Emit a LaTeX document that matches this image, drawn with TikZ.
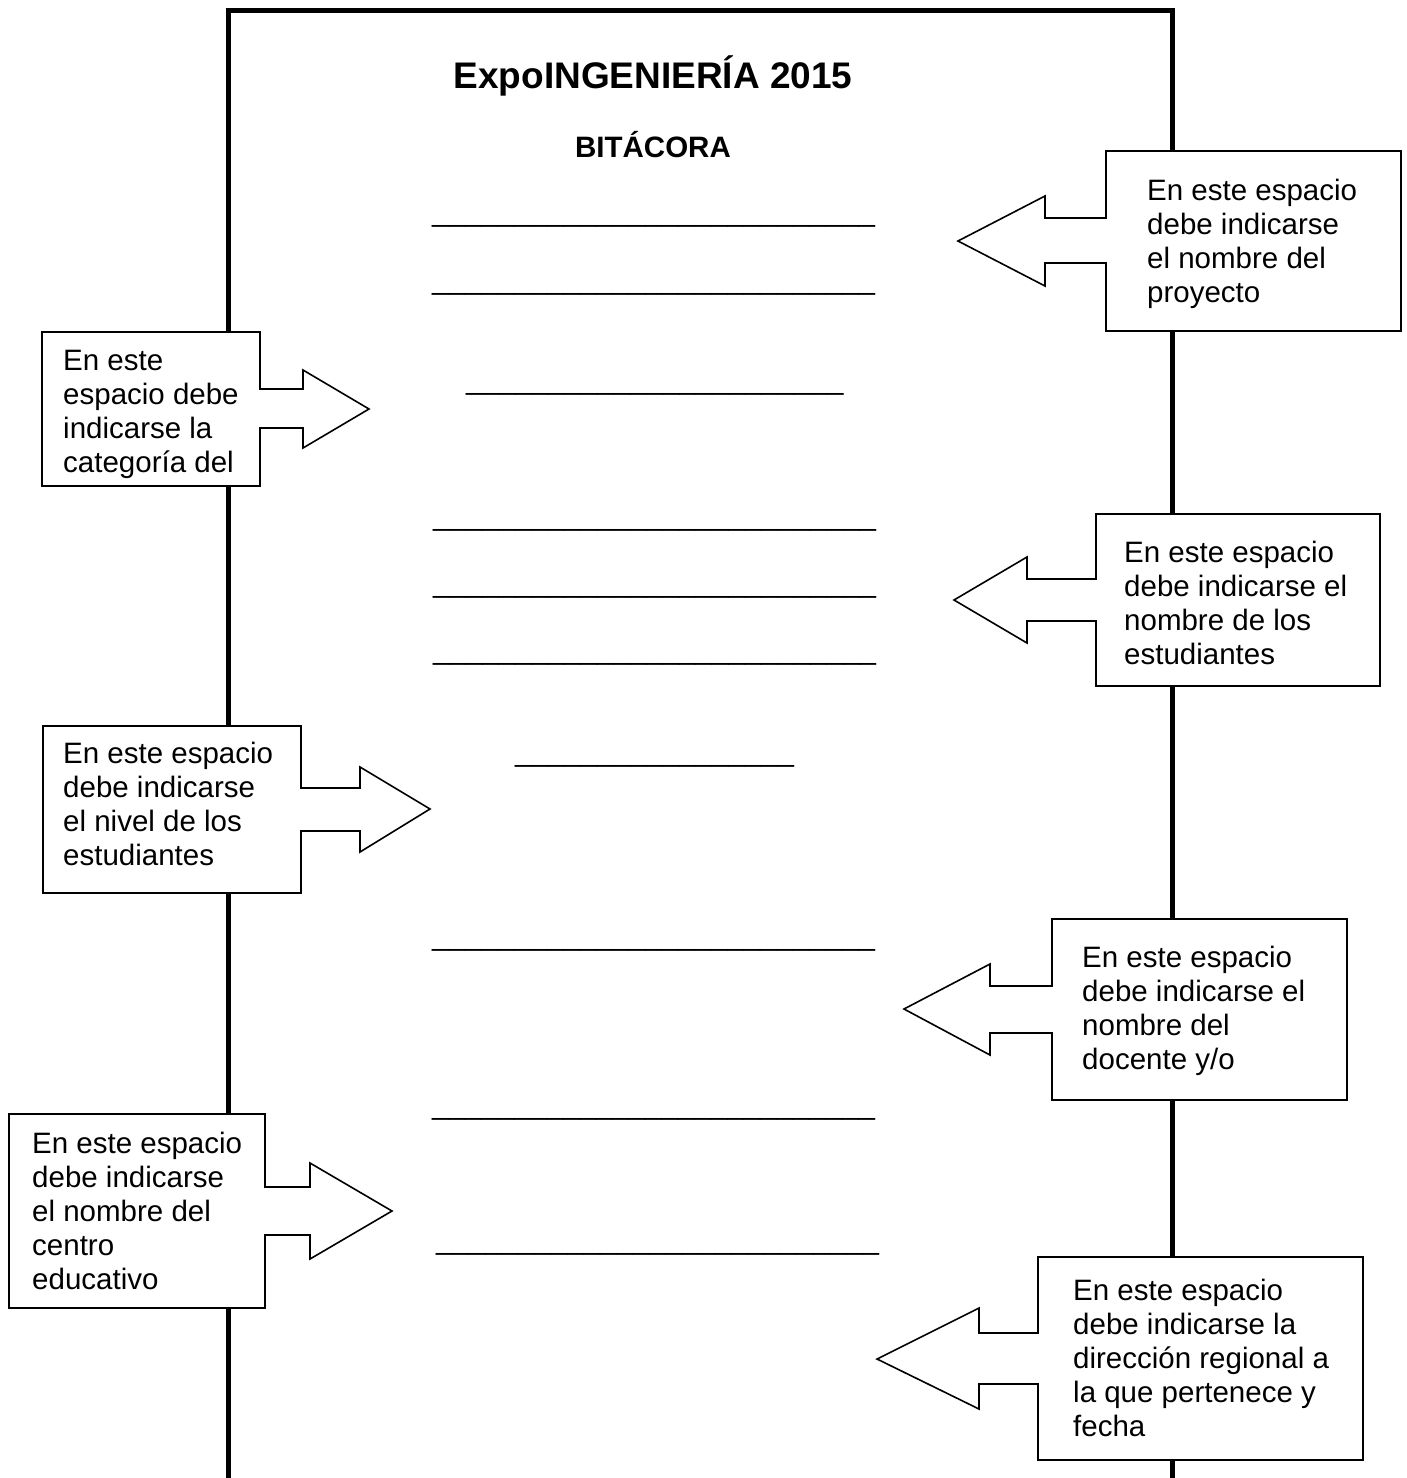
\documentclass[tikz,border=0pt]{standalone}
\usepackage{fontspec}
\setmainfont{Liberation Sans}
\usepackage{tikz}

\newcommand{\raya}[1]{\foreach \k in {1,...,#1}{\_}}

\begin{document}
\begin{tikzpicture}[
  x=1pt, y=-1pt,
  page/.style={line width=5pt},
  callout/.style={draw, fill=white, line width=1.6pt, line join=miter},
  note/.style={anchor=base west, inner sep=0pt, align=left, font=\fontsize{29.5}{33.9}\selectfont},
  blank/.style={anchor=base west, inner sep=0pt, font=\fontsize{29.5}{33.9}\selectfont}
]
\useasboundingbox (0,0) rectangle (1407,1478);

% sheet
\draw[page] (228,1490) -- (228,10) -- (1172,10) -- (1172,1490);

\node[anchor=base, inner sep=0pt, font=\fontsize{37}{41}\selectfont\bfseries] (title) at (653,88) {ExpoINGENIERÍA 2015};
\node[anchor=base, inner sep=0pt, font=\fontsize{29.5}{33.9}\selectfont\bfseries] (logbook) at (653,157) {BITÁCORA};

% blanks to fill
\node[blank] (blank1) at (432,221) {\raya{27}};
\node[blank] (blank2) at (432,289) {\raya{27}};
\node[blank] (blank3) at (466,389) {\raya{23}};
\node[blank] (blank4) at (433,525) {\raya{27}};
\node[blank] (blank5) at (433,592) {\raya{27}};
\node[blank] (blank6) at (433,659) {\raya{27}};
\node[blank] (blank7) at (515,761) {\raya{17}};
\node[blank] (blank8) at (432,945) {\raya{27}};
\node[blank] (blank9) at (432,1114) {\raya{27}};
\node[blank] (blank10) at (436,1249) {\raya{27}};

% callouts
\draw[callout] (1106,151) -- (1401,151) -- (1401,331) -- (1106,331) -- (1106,263) -- (1045,263)
  -- (1045,286) -- (958,241) -- (1045,196) -- (1045,218) -- (1106,218) -- cycle;
\draw[callout] (42,332) -- (260,332) -- (260,389) -- (303,389) -- (303,370) -- (369,409)
  -- (303,448) -- (303,428) -- (260,428) -- (260,486) -- (42,486) -- cycle;
\draw[callout] (1096,514) -- (1380,514) -- (1380,686) -- (1096,686) -- (1096,621) -- (1027,621)
  -- (1027,643) -- (954,600) -- (1027,557) -- (1027,579) -- (1096,579) -- cycle;
\draw[callout] (43,726) -- (301,726) -- (301,788) -- (360,788) -- (360,767) -- (430,809)
  -- (360,852) -- (360,831) -- (301,831) -- (301,893) -- (43,893) -- cycle;
\draw[callout] (1052,919) -- (1347,919) -- (1347,1100) -- (1052,1100) -- (1052,1033) -- (990,1033)
  -- (990,1055) -- (904,1009) -- (990,964) -- (990,986) -- (1052,986) -- cycle;
\draw[callout] (9,1114) -- (265,1114) -- (265,1187) -- (310,1187) -- (310,1163) -- (392,1211)
  -- (310,1259) -- (310,1235) -- (265,1235) -- (265,1308) -- (9,1308) -- cycle;
\draw[callout] (1038,1257) -- (1363,1257) -- (1363,1460) -- (1038,1460) -- (1038,1384) -- (979,1384)
  -- (979,1409) -- (877,1359) -- (979,1308) -- (979,1333) -- (1038,1333) -- cycle;

% notes (placed by the baseline of their last line)
\node[note] (project) at (1147,302) {En este espacio\\debe indicarse\\el nombre del\\proyecto};
\node[note] (category) at (63,472) {En este\\espacio debe\\indicarse la\\categoría del};
\node[note] (students) at (1124,664) {En este espacio\\debe indicarse el\\nombre de los\\estudiantes};
\node[note] (level) at (63,865) {En este espacio\\debe indicarse\\el nivel de los\\estudiantes};
\node[note] (teacher) at (1082,1069) {En este espacio\\debe indicarse el\\nombre del\\docente y/o};
\node[note] (school) at (32,1289) {En este espacio\\debe indicarse\\el nombre del\\centro\\educativo};
\node[note] (region) at (1073,1436) {En este espacio\\debe indicarse la\\dirección regional a\\la que pertenece y\\fecha};
\end{tikzpicture}
\end{document}
